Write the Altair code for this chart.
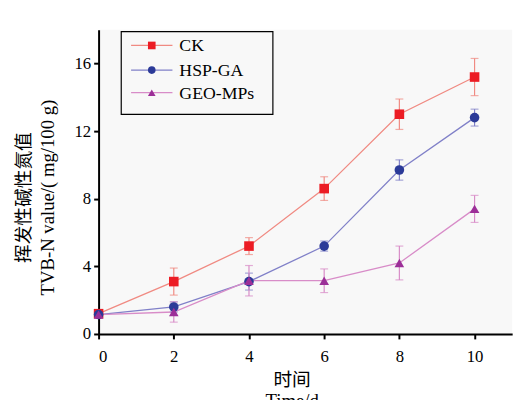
import altair as alt
import pandas as pd

days = [0, 2, 4, 6, 8, 10]
series = ["CK", "HSP-GA", "GEO-MPs"]
ck = [1.2, 3.1, 5.2, 8.6, 13.0, 15.2]
ck_err = [0.15, 0.8, 0.5, 0.7, 0.9, 1.1]
hsp = [1.15, 1.6, 3.1, 5.2, 9.7, 12.8]
hsp_err = [0.1, 0.3, 0.5, 0.3, 0.6, 0.5]
geo = [1.15, 1.3, 3.15, 3.15, 4.2, 7.4]
geo_err = [0.1, 0.6, 0.9, 0.7, 1.0, 0.8]
x_ticks = [0, 2, 4, 6, 8, 10]
y_ticks = [0, 4, 8, 12, 16]

marker_colors = ["#ec1c24", "#2b3a98", "#9c2f98"]
line_colors = ["#f08a82", "#8080c8", "#d88cc8"]
shapes = ["square", "circle", "triangle-up"]

rows = []
for name, vals, errs in zip(series, [ck, hsp, geo], [ck_err, hsp_err, geo_err]):
    for d, v, e in zip(days, vals, errs):
        rows.append({"series": name, "day": d, "value": v, "lo": v - e, "hi": v + e})
df = pd.DataFrame(rows)

FONT = "Liberation Serif, Noto Sans CJK SC"

xs = alt.Scale(domain=[0, 11], nice=False)
ys = alt.Scale(domain=[0, 18], nice=False)

X_TITLE = ["时间", "Time/d"]
Y_TITLE = ["挥发性碱性氮值", "TVB-N value/( mg/100 g)"]

x_axis = alt.Axis(values=x_ticks, title=X_TITLE, grid=False,
                  titleLineHeight=22, titlePadding=6, titleX=196)
y_axis = alt.Axis(values=y_ticks, title=Y_TITLE, grid=False,
                  titleLineHeight=24, titlePadding=17, titleY=170)

mcol = alt.Color("series:N", scale=alt.Scale(domain=series, range=marker_colors), legend=None)
lcol = alt.Color("series:N", scale=alt.Scale(domain=series, range=line_colors), legend=None)

one = pd.DataFrame({"a": [0]})

lines = alt.Chart(df).mark_line(strokeWidth=1.3).encode(
    x=alt.X("day:Q", scale=xs, axis=x_axis),
    y=alt.Y("value:Q", scale=ys, axis=y_axis),
    color=lcol, detail="series:N")

err = alt.Chart(df).mark_errorbar(ticks=alt.TickConfig(size=8, thickness=1.2), thickness=1.2).encode(
    x=alt.X("day:Q", scale=xs, axis=x_axis),
    y=alt.Y("lo:Q", scale=ys, axis=y_axis), y2="hi:Q", color=lcol)

pts = alt.Chart(df).mark_point(filled=True, size=95, opacity=1).encode(
    x=alt.X("day:Q", scale=xs, axis=x_axis),
    y=alt.Y("value:Q", scale=ys, axis=y_axis), color=mcol,
    shape=alt.Shape("series:N", scale=alt.Scale(domain=series, range=shapes), legend=None))

legend_layers = [alt.Chart(one).mark_rect(fill=None, stroke="black", strokeWidth=1.2).encode(
    x=alt.value(23), x2=alt.value(177), y=alt.value(2), y2=alt.value(86))]
leg_y = [16, 41, 64]
for i, name in enumerate(series):
    ldf = pd.DataFrame({"name": [name]})
    legend_layers.append(alt.Chart(ldf).mark_rule(color=line_colors[i], strokeWidth=1.3).encode(
        x=alt.value(33), x2=alt.value(75), y=alt.value(leg_y[i])))
    legend_layers.append(alt.Chart(ldf).mark_point(filled=True, opacity=1, size=60,
                                                   shape=shapes[i], color=marker_colors[i]).encode(
        x=alt.value(54), y=alt.value(leg_y[i])))
    legend_layers.append(alt.Chart(ldf).mark_text(align="left", baseline="middle", font=FONT,
                                                  fontSize=18, color="black").encode(
        x=alt.value(82), y=alt.value(leg_y[i] + 1), text="name:N"))

chart = alt.layer(lines, err, pts, *legend_layers).resolve_scale(
    color="independent", shape="independent"
).properties(
    width=420, height=309, autosize="none",
    padding={"left": 92, "top": 19, "right": 11, "bottom": 64},
    background="white",
).configure_view(stroke=None, fill="#f8f8f8").configure_axis(
    domainColor="black", domainWidth=2, tickColor="black", tickWidth=2, tickSize=5,
    labelFont=FONT, labelFontSize=17, labelColor="black", labelPadding=3,
    titleFont=FONT, titleFontSize=19, titleFontWeight="normal", titleColor="black",
).configure_axisX(labelPadding=10)

chart.save("out.html", embed_options={"renderer": "svg", "actions": False})
